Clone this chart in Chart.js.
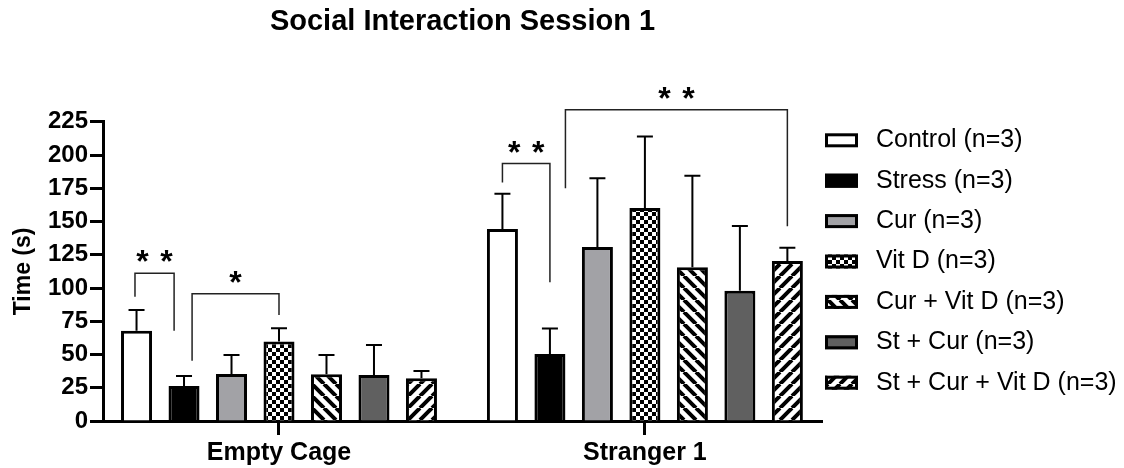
<!DOCTYPE html>
<html>
<head>
<meta charset="utf-8">
<script src="https://cdn.jsdelivr.net/npm/chart.js@4"></script>
<style>
  html, body { margin: 0; padding: 0; background: #fff; }
  canvas { display: block; }
</style>
</head>
<body>
<canvas id="chart" width="1124" height="468"></canvas>
<script>
const categories = ['Empty Cage', 'Stranger 1'];
const groupLabels = ['Control (n=3)', 'Stress (n=3)', 'Cur (n=3)', 'Vit D (n=3)',
  'Cur + Vit D (n=3)', 'St + Cur (n=3)', 'St + Cur + Vit D (n=3)'];

// mean values per group: [Empty Cage, Stranger 1]
const controlMean = [67.9, 144.3];
const stressMean = [26.3, 50.4];
const curMean = [35.4, 130.9];
const vitDMean = [59.7, 160.1];
const curVitDMean = [35.1, 115.7];
const stCurMean = [34.6, 98.0];
const stCurVitDMean = [32.1, 120.4];

// upper error (SEM)
const controlErr = [15.6, 26.5];
const stressErr = [7.6, 19.1];
const curErr = [14.3, 51.7];
const vitDErr = [10.1, 53.8];
const curVitDErr = [14.6, 68.7];
const stCurErr = [22.6, 48.7];
const stCurVitDErr = [5.5, 9.8];

const yTicks = { min: 0, max: 225, step: 25 };

// significance brackets: category, bars compared, leg ends and top (in s)
const brackets = [
  { cat: 0, from: 0, to: 1, fromDx: -0.05, toDx: -0.32, fromLow: 93.5, toLow: 67.9, top: 111.1, stars: 2 },
  { cat: 0, from: 1, to: 3, fromDx: 0.26, toDx: 0, fromLow: 45.4, toLow: 79.8, top: 95.6, stars: 1 },
  { cat: 1, from: 0, to: 1, fromDx: 0, toDx: 0, fromLow: 179.3, toLow: 104.4, top: 193.6, stars: 2 },
  { cat: 1, from: 1, to: 6, fromDx: 0.5, toDx: 0, fromLow: 175.1, toLow: 146.5, top: 234.0, stars: 2 }
];

const FONT = "'Liberation Sans', Arial, sans-serif";

// fill patterns
function makeTile(size, draw) {
  const c = document.createElement('canvas');
  c.width = size; c.height = size;
  const g = c.getContext('2d');
  g.fillStyle = '#fff';
  g.fillRect(0, 0, size, size);
  draw(g, size);
  return document.createElement('canvas').getContext('2d').createPattern(c, 'repeat');
}

const checker = makeTile(8, (g) => {
  g.fillStyle = '#000';
  g.fillRect(0, 0, 4, 4);
  g.fillRect(4, 4, 4, 4);
});

function stripes(dir) {
  return makeTile(12, (g, s) => {
    g.strokeStyle = '#000';
    g.lineWidth = 4;
    g.beginPath();
    for (let k = -1; k <= 1; k++) {
      if (dir === 'back') {
        g.moveTo(k * s, 0); g.lineTo(k * s + s, s);
      } else {
        g.moveTo(k * s, s); g.lineTo(k * s + s, 0);
      }
    }
    g.stroke();
  });
}

const means = [controlMean, stressMean, curMean, vitDMean, curVitDMean, stCurMean, stCurVitDMean];
const errs = [controlErr, stressErr, curErr, vitDErr, curVitDErr, stCurErr, stCurVitDErr];
const fills = ['#ffffff', '#000000', '#a2a2a6', checker, stripes('back'), '#606060', stripes('fwd')];

const datasets = groupLabels.map((label, i) => ({
  label,
  data: means[i].map((v, j) => ({ x: j, y: v })),
  errors: errs[i],
  backgroundColor: fills[i],
  borderColor: '#000',
  borderWidth: 3,
  categoryPercentage: 0.9085,
  barPercentage: 0.653
}));

// upward error bars
const errorBars = {
  id: 'errorBars',
  afterDatasetsDraw(chart) {
    const { ctx, scales: { y } } = chart;
    ctx.save();
    ctx.strokeStyle = '#000';
    ctx.lineWidth = 2;
    chart.data.datasets.forEach((ds, i) => {
      chart.getDatasetMeta(i).data.forEach((bar, j) => {
        const top = y.getPixelForValue(ds.data[j].y + ds.errors[j]);
        ctx.beginPath();
        ctx.moveTo(bar.x, bar.y);
        ctx.lineTo(bar.x, top);
        ctx.moveTo(bar.x - 8, top);
        ctx.lineTo(bar.x + 8, top);
        ctx.stroke();
      });
    });
    ctx.restore();
  }
};

// significance brackets with stars
const sigBrackets = {
  id: 'sigBrackets',
  afterDatasetsDraw(chart) {
    const { ctx, scales: { y } } = chart;
    ctx.save();
    ctx.strokeStyle = '#222';
    ctx.lineWidth = 1.5;
    ctx.fillStyle = '#000';
    ctx.font = 'bold 32px ' + FONT;
    ctx.textAlign = 'center';
    ctx.textBaseline = 'alphabetic';
    brackets.forEach(b => {
      const barA = chart.getDatasetMeta(b.from).data[b.cat];
      const barB = chart.getDatasetMeta(b.to).data[b.cat];
      const xa = barA.x + b.fromDx * barA.width;
      const xb = barB.x + b.toDx * barB.width;
      const yTop = y.getPixelForValue(b.top);
      ctx.beginPath();
      ctx.moveTo(xa, y.getPixelForValue(b.fromLow));
      ctx.lineTo(xa, yTop);
      ctx.lineTo(xb, yTop);
      ctx.lineTo(xb, y.getPixelForValue(b.toLow));
      ctx.stroke();
      const cx = (xa + xb) / 2;
      for (let s = 0; s < b.stars; s++) {
        const sx = cx + (s - (b.stars - 1) / 2) * 24;
        ctx.fillText('*', sx, yTop - 1);
      }
    });
    ctx.restore();
  }
};

// legend at the right of the plot
const sideLegend = {
  id: 'sideLegend',
  afterDraw(chart) {
    const { ctx, chartArea } = chart;
    ctx.save();
    chart.data.datasets.forEach((ds, i) => {
      const x = chartArea.right + 3;
      const cy = chartArea.top + 18.5 + i * 40.4;
      ctx.fillStyle = ds.backgroundColor;
      ctx.fillRect(x, cy - 7, 33, 14);
      ctx.strokeStyle = '#000';
      ctx.lineWidth = 3;
      ctx.strokeRect(x + 1.5, cy - 5.5, 30, 11);
      ctx.fillStyle = '#000';
      ctx.font = '25px ' + FONT;
      ctx.textAlign = 'left';
      ctx.textBaseline = 'middle';
      ctx.fillText(ds.label, x + 51, cy);
    });
    ctx.restore();
  }
};

new Chart(document.getElementById('chart'), {
  type: 'bar',
  data: { datasets },
  plugins: [errorBars, sigBrackets, sideLegend],
  options: {
    responsive: false,
    animation: false,
    devicePixelRatio: 1,
    layout: { padding: { right: 302 } },
    plugins: {
      legend: { display: false },
      tooltip: { enabled: false },
      title: {
        display: true,
        text: 'Social Interaction Session 1',
        fullSize: false,
        color: '#000',
        font: { family: FONT, size: 29, weight: 'bold' },
        padding: { top: 5, bottom: 82 }
      }
    },
    scales: {
      x: {
        type: 'linear',
        offset: false,
        min: -0.481,
        max: 1.484,
        afterBuildTicks(scale) {
          scale.ticks = categories.map((c, i) => ({ value: i }));
        },
        ticks: {
          color: '#000',
          font: { family: FONT, size: 25, weight: 'bold' },
          padding: 3,
          callback: (v) => categories[v]
        },
        grid: { drawOnChartArea: false, offset: false, tickLength: 14, tickWidth: 3, tickColor: '#000' },
        border: { width: 3, color: '#000' },
        afterFit(scale) { scale.height = 47; }
      },
      y: {
        min: yTicks.min,
        max: yTicks.max,
        ticks: { stepSize: yTicks.step, color: '#000', font: { family: FONT, size: 24, weight: 'bold' }, padding: 2 },
        grid: { drawOnChartArea: false, tickLength: 13, tickWidth: 3, tickColor: '#000' },
        border: { width: 3, color: '#000' },
        title: {
          display: true,
          text: 'Time (s)',
          color: '#000',
          font: { family: FONT, size: 23, weight: 'bold' },
          padding: { top: 10, bottom: 0 }
        },
        afterFit(scale) { scale.width = 103; }
      }
    }
  }
});
</script>
</body>
</html>
